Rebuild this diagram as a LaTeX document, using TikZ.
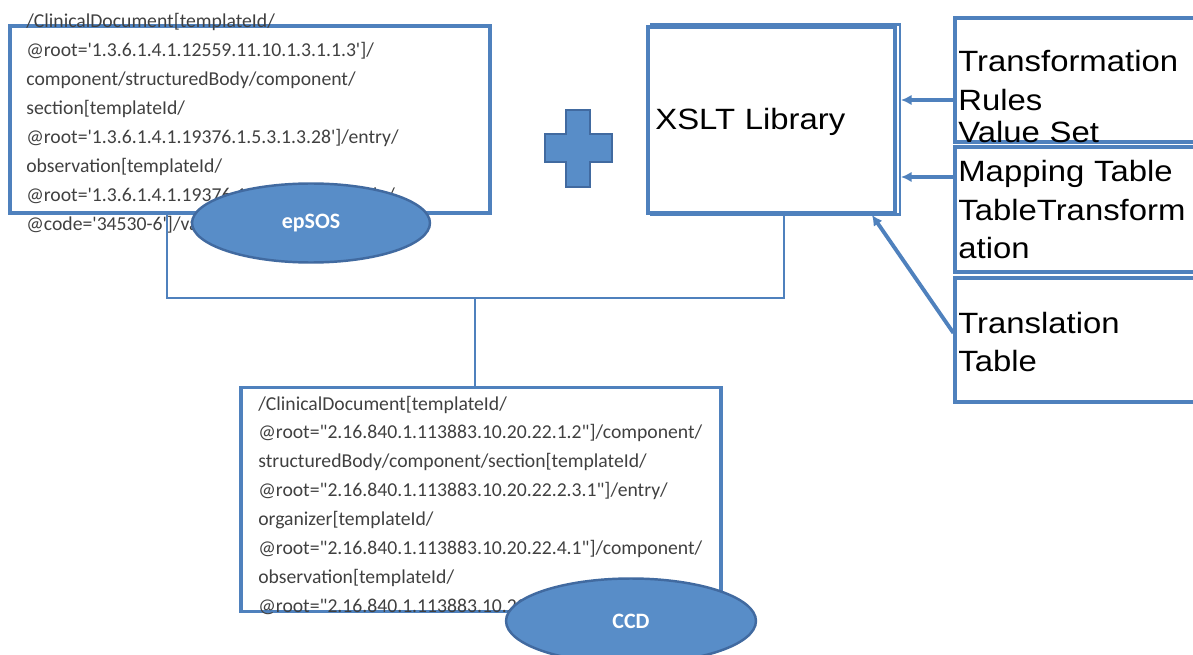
\documentclass[tikz,border=0pt]{standalone}
\usepackage{fontspec}
\setmainfont{Carlito}
\newfontfamily\pathfont{Carlito}[Ligatures=TeXOff]
\newfontfamily\arialfont{Liberation Sans}[FakeStretch=1.12]
\usetikzlibrary{arrows.meta,shapes.geometric}
\definecolor{boxblue}{RGB}{79,129,189}
\definecolor{ovalblue}{RGB}{88,141,200}
\definecolor{ovaledge}{RGB}{65,106,160}
\definecolor{pathgray}{RGB}{64,64,64}

\begin{document}
\begin{tikzpicture}[x=0.02cm,y=-0.02cm,
  xbox/.style={draw=boxblue,line width=2.2pt,inner sep=0},
  tbox/.style={draw=boxblue,line width=1.8pt,inner sep=0},
  xpath/.style={anchor=base west,inner sep=0,text width=11cm,align=left,text=pathgray,font=\pathfont\fontsize{11.2}{16.44}\selectfont},
  rulelabel/.style={anchor=base west,inner sep=0,text width=6cm,align=left,font=\arialfont\fontsize{16.7}{22}\selectfont},
  oval/.style={ellipse,fill=ovalblue,draw=ovaledge,line width=1.4pt,text=white,font=\bfseries\fontsize{12.5}{14}\selectfont},
  link/.style={draw=boxblue,line width=0.9pt},
  feed/.style={draw=boxblue,line width=2.2pt,-{Latex[length=6pt,width=6pt]}}]
\useasboundingbox (0,0) rectangle (1193,655);

% epSOS
\node[xbox,minimum width=9.6cm,minimum height=3.74cm] (epsos) at (250,119.5) {};
\node[xpath] (epsostext) at (26,28) {/ClinicalDocument[templateId/\\
@root='1.3.6.1.4.1.12559.11.10.1.3.1.1.3']/\\
component/structuredBody/component/\\
section[templateId/\\
@root='1.3.6.1.4.1.19376.1.5.3.1.3.28']/entry/\\
observation[templateId/\\
@root='1.3.6.1.4.1.19376.1.5.3.1.4.13']/code/\\
@code='34530-6']/value};
\node[oval,minimum width=4.76cm,minimum height=1.58cm] (epsosoval) at (311,223) {epSOS};

% plus
\fill[ovalblue,draw=ovaledge,line width=0.6pt] (566,110) -- (590,110) -- (590,134) -- (612,134) -- (612,162) -- (590,162) -- (590,187) -- (566,187) -- (566,162) -- (545,162) -- (545,134) -- (566,134) -- cycle;

% XSLT
\node[tbox,line width=1.2pt,minimum width=4.98cm,minimum height=3.8cm] (xsltback) at (775.5,119.5) {};
\node[xbox,fill=white,minimum width=4.94cm,minimum height=3.72cm] (xslt) at (771.5,120) {};
\node[rulelabel] (xslttext) at (655,130) {XSLT Library};

% rule boxes
\node[tbox,minimum width=5.2cm,minimum height=2.48cm] (rulesbox) at (1085,80) {};
\node[tbox,minimum width=5.2cm,minimum height=2.5cm] (mapbox) at (1085,209.5) {};
\node[tbox,minimum width=5.2cm,minimum height=2.48cm] (transbox) at (1085,340) {};
\node[rulelabel] (rulestext) at (958,72) {Transformation\\Rules};
\node[rulelabel] (maptext) at (958,143) {Value Set\\Mapping Table\\TableTransform\\ation};
\node[rulelabel] (transtext) at (958,333) {Translation\\Table};

\draw[feed] (rulesbox.west |- 0,100) -- (xsltback.east |- 0,100);
\draw[feed] (mapbox.west |- 0,177) -- (xsltback.east |- 0,177);
\draw[feed] ([yshift=0.14cm]transbox.west) -- ([xshift=-0.5cm]xslt.south east);

% CCD
\node[xbox,minimum width=9.6cm,minimum height=4.48cm] (ccd) at (481,499.5) {};
\node[xpath] (ccdtext) at (258,410) {/ClinicalDocument[templateId/\\
@root="2.16.840.1.113883.10.20.22.1.2"]/component/\\
structuredBody/component/section[templateId/\\
@root="2.16.840.1.113883.10.20.22.2.3.1"]/entry/\\
organizer[templateId/\\
@root="2.16.840.1.113883.10.20.22.4.1"]/component/\\
observation[templateId/\\
@root="2.16.840.1.113883.10.20.22.4.2"]};
\node[oval,minimum width=5cm,minimum height=1.7cm] (ccdoval) at (631,621) {CCD};

% connectors
\coordinate (joinL) at (167,298);
\coordinate (joinR) at (784,298);
\coordinate (joinM) at (475,298);
\draw[link] (epsos.south -| joinL) -- (joinL) -- (joinR) -- (xslt.south -| joinR);
\draw[link] (joinM) -- (ccd.north -| joinM);
\end{tikzpicture}
\end{document}
